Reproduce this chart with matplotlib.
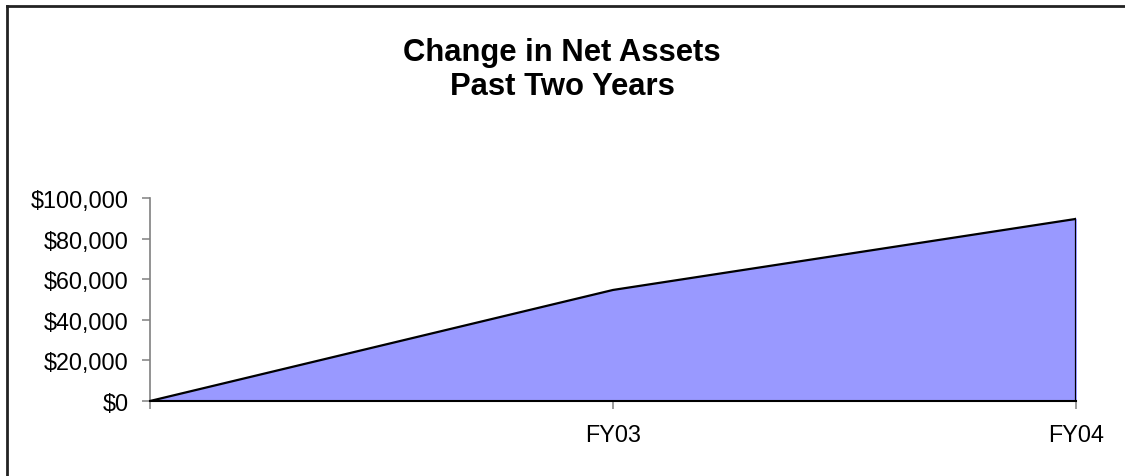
import matplotlib
matplotlib.use("Agg")
import matplotlib.pyplot as plt
from matplotlib.lines import Line2D
from matplotlib.ticker import FuncFormatter

categories = ["", "FY03", "FY04"]
net_assets = [0, 54700, 89700]
y_ticks = [0, 20000, 40000, 60000, 80000, 100000]
title_lines = ["Change in Net Assets", "Past Two Years"]

plt.rcParams['font.family'] = ['Liberation Sans', 'DejaVu Sans']

W, H = 1125, 477
fig = plt.figure(figsize=(W / 100, H / 100), dpi=100)
fig.patch.set_facecolor('white')

# outer chart frame (partially visible)
fig.add_artist(Line2D([7 / W, 7 / W], [0, 1 - 6.5 / H], transform=fig.transFigure,
                      color='#222222', lw=2))
fig.add_artist(Line2D([7 / W, 1], [1 - 6.5 / H, 1 - 6.5 / H], transform=fig.transFigure,
                      color='#222222', lw=2))

ax = fig.add_axes([150 / W, 75 / H, (1076 - 150) / W, (402 - 199) / H])
x = list(range(len(categories)))
ax.fill_between(x, net_assets, 0, color='#9999FF', zorder=2)
ax.plot(x, net_assets, color='black', lw=1.6, zorder=3)
ax.plot([x[-1], x[-1]], [0, net_assets[-1]], color='black', lw=1.6, zorder=3)

ax.set_xlim(0, len(categories) - 1)
ax.set_ylim(0, 100000)
ax.set_xticks(x)
ax.set_xticklabels(categories)
ax.set_yticks(y_ticks)
ax.yaxis.set_major_formatter(FuncFormatter(lambda v, p: f"${v:,.0f}"))

for s in ['top', 'right']:
    ax.spines[s].set_visible(False)
ax.spines['left'].set_color('#808080')
ax.spines['left'].set_linewidth(1.2)
ax.spines['bottom'].set_color('black')
ax.spines['bottom'].set_linewidth(1.5)
ax.spines['bottom'].set_zorder(4)

ax.tick_params(axis='y', direction='out', length=6, width=1.1, color='#808080',
               labelsize=16.8, pad=9.5, labelcolor='black')
ax.tick_params(axis='x', direction='out', length=6, width=1.1, color='#808080',
               labelsize=16.8, pad=10, labelcolor='black')

for line, base_y in zip(title_lines, [61, 95]):
    fig.text(562 / W, 1 - base_y / H, line, ha='center', va='baseline',
             fontsize=22.3, fontweight='bold')

fig.savefig("out.png", dpi=100)
